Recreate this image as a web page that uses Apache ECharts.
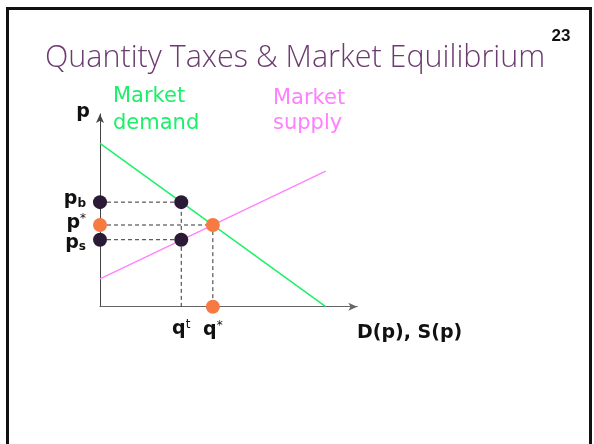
<!DOCTYPE html>
<html>
<head>
<meta charset="utf-8">
<script src="https://cdn.jsdelivr.net/npm/echarts@6/dist/echarts.min.js"></script>
<style>
  html, body { margin: 0; padding: 0; background: #fff; }
  #chart { width: 594px; height: 444px; }
</style>
</head>
<body>
<div id="chart"></div>
<script>
// demand and supply lines (quantity, price)
const demandLine = [[0, 10], [10, 0]];
const supplyLine = [[0, 1.7], [10, 8.3]];

// tax wedge values
const qStar = 5;
const pStar = 5;
const qTax = 3.6;
const pBuyer = 6.4;
const pSeller = 4.1;

const darkDot = '#2b1a36';
const orangeDot = '#f77a43';
const green = '#1cf06a';
const pink = '#ff80ff';

let chart = echarts.init(document.getElementById('chart'));

function dashed(points) {
    return {
        type: 'line',
        data: points,
        symbol: 'none',
        silent: true,
        lineStyle: { color: '#333', width: 1, type: [4, 3] },
        z: 1
    };
}

const labelRich = {
    m: { fontSize: 19, fontWeight: 'bold', fontFamily: 'DejaVu Sans', color: '#111' },
    sub: { fontSize: 12, fontWeight: 'bold', fontFamily: 'DejaVu Sans', color: '#111', padding: [9, 0, 0, 0] },
    sup: { fontSize: 12, fontFamily: 'DejaVu Sans', color: '#111', padding: [0, 0, 9, 0] }
};

let option = {
    animation: false,
    grid: { left: 100, top: 113.9, width: 257.3, height: 192.8, outerBoundsMode: 'none', containLabel: false },
    xAxis: {
        type: 'value', min: 0, max: 11.4,
        splitLine: { show: false }, axisTick: { show: false }, axisLabel: { show: false },
        axisLine: { onZero: false, symbol: ['none', 'arrow'], symbolSize: [6, 9], lineStyle: { color: '#666', width: 1 } }
    },
    yAxis: {
        type: 'value', min: 0, max: 11.8,
        splitLine: { show: false }, axisTick: { show: false }, axisLabel: { show: false },
        axisLine: { onZero: false, symbol: ['none', 'arrow'], symbolSize: [6, 9], lineStyle: { color: '#444', width: 1 } }
    },
    graphic: [
        { type: 'rect', shape: { x: 7.5, y: 8.5, width: 583, height: 460 }, style: { fill: 'none', stroke: '#111', lineWidth: 3 } },
        { type: 'text', x: 45, y: 58, style: { text: 'Quantity Taxes & Market Equilibrium', fontFamily: 'Open Sans', fontWeight: 300, fontSize: 30.5, fill: '#6c3b70', verticalAlign: 'middle' } },
        { type: 'text', x: 561, y: 36.7, style: { text: '23', fontFamily: 'Liberation Sans', fontWeight: 'bold', fontSize: 17, fill: '#111', align: 'center', verticalAlign: 'middle' } },
        { type: 'text', x: 113, y: 97, style: { text: 'Market', fontFamily: 'DejaVu Sans', fontSize: 21, fill: green, verticalAlign: 'middle' } },
        { type: 'text', x: 113, y: 123.5, style: { text: 'demand', fontFamily: 'DejaVu Sans', fontSize: 21, fill: green, verticalAlign: 'middle' } },
        { type: 'text', x: 273, y: 99, style: { text: 'Market', fontFamily: 'DejaVu Sans', fontSize: 21, fill: pink, verticalAlign: 'middle' } },
        { type: 'text', x: 273, y: 123.5, style: { text: 'supply', fontFamily: 'DejaVu Sans', fontSize: 21, fill: pink, verticalAlign: 'middle' } },
        { type: 'text', x: 83, y: 111.8, style: { text: 'p', fontFamily: 'DejaVu Sans', fontWeight: 'bold', fontSize: 19, fill: '#111', align: 'center', verticalAlign: 'middle' } },
        { type: 'text', x: 357, y: 333.4, style: { text: 'D(p), S(p)', fontFamily: 'DejaVu Sans', fontWeight: 'bold', fontSize: 19, fill: '#111', verticalAlign: 'middle' } }
    ],
    series: [
        dashed([[0, pBuyer], [qTax, pBuyer], [qTax, 0]]),
        dashed([[0, pStar], [qStar, pStar], [qStar, 0]]),
        dashed([[0, pSeller], [qTax, pSeller]]),
        {
            type: 'line', data: demandLine, symbol: 'none', z: 2,
            lineStyle: { color: green, width: 1.5 }
        },
        {
            type: 'line', data: supplyLine, symbol: 'none', z: 2,
            lineStyle: { color: pink, width: 1.3 }
        },
        {
            type: 'scatter', symbolSize: 14, z: 5,
            itemStyle: { color: darkDot, opacity: 1 },
            label: { show: false, rich: labelRich },
            data: [
                { value: [0, pBuyer], label: { show: true, position: 'left', distance: 7, offset: [0, -3], formatter: '{m|p}{sub|b}' } },
                [qTax, pBuyer],
                { value: [0, pSeller], label: { show: true, position: 'left', distance: 7, offset: [0, 3], formatter: '{m|p}{sub|s}' } },
                [qTax, pSeller]
            ]
        },
        {
            type: 'scatter', symbolSize: 14, z: 5,
            itemStyle: { color: orangeDot, opacity: 1 },
            label: { show: false, rich: labelRich },
            data: [
                { value: [0, pStar], label: { show: true, position: 'left', distance: 7, offset: [0, -2], formatter: '{m|p}{sup|*}' } },
                [qStar, pStar],
                { value: [qStar, 0], label: { show: true, position: 'bottom', distance: 6, color: '#111', formatter: '{m|q}{sup|*}' } }
            ]
        },
        {
            type: 'scatter', symbolSize: 0, z: 5,
            itemStyle: { color: '#111', opacity: 1 },
            label: { show: true, position: 'bottom', distance: 12, color: '#111', rich: labelRich, formatter: '{m|q}{sup|t}' },
            data: [[qTax, 0]]
        }
    ]
};

chart.setOption(option);
</script>
</body>
</html>
